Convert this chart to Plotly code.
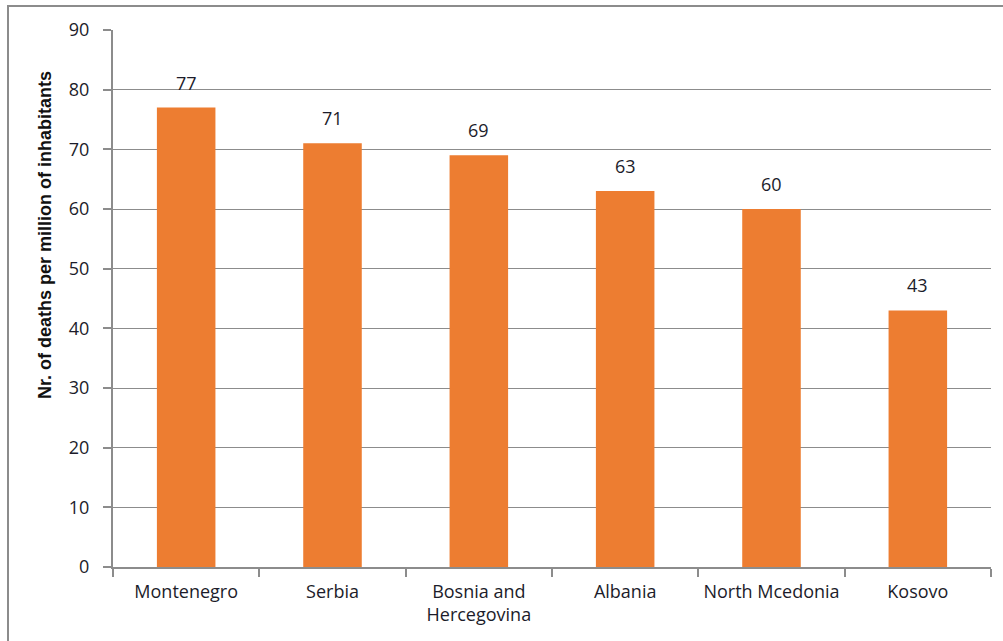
import plotly.graph_objects as go

categories = ["Montenegro", "Serbia", "Bosnia and<br>Hercegovina", "Albania", "North Mcedonia", "Kosovo"]
values = [77, 71, 69, 63, 60, 43]
y_ticks = [0, 10, 20, 30, 40, 50, 60, 70, 80, 90]

W, H = 1003, 641
L, R, T, B = 113, 12, 30, 74
pw, ph = W - L - R, H - T - B

def px_x(x):
    return (x - L) / pw

def px_y(y):
    return (H - B - y) / ph

FONT = "Open Sans"
TXT = "#1c1c2a"
GRAY = "#8c8c8c"

fig = go.Figure()
fig.add_trace(go.Bar(
    x=categories, y=values,
    marker=dict(color="#ED7D31", line=dict(width=0)),
    width=0.4, hoverinfo="x+y",
))

for c, v in zip(categories, values):
    fig.add_annotation(
        x=c, y=v, text=str(v), showarrow=False,
        xanchor="center", yanchor="bottom", yshift=11,
        font=dict(size=18, color=TXT, family=FONT),
    )

fig.add_annotation(
    text="<b>Nr. of deaths per million of inhabitants</b>",
    xref="paper", yref="paper", x=px_x(45), y=px_y(235),
    textangle=-90, showarrow=False, xanchor="center", yanchor="middle",
    font=dict(size=18, color="#111111", family="Liberation Sans"),
)

fig.update_layout(
    width=W, height=H,
    margin=dict(l=L, r=R, t=T, b=B),
    paper_bgcolor="white", plot_bgcolor="white",
    showlegend=False,
    font=dict(family=FONT, size=18, color=TXT),
    xaxis=dict(
        showline=True, linecolor=GRAY, linewidth=2,
        ticks="outside", ticklen=8, tickcolor=GRAY, tickwidth=2,
        tickson="boundaries", showgrid=False,
        tickfont=dict(size=18, color=TXT, family=FONT),
        ticklabelstandoff=7,
    ),
    yaxis=dict(
        range=[0, 90], tickvals=y_ticks,
        showline=True, linecolor=GRAY, linewidth=2,
        ticks="outside", ticklen=8, tickcolor=GRAY, tickwidth=2,
        showgrid=True, gridcolor=GRAY, gridwidth=1,
        zeroline=False,
        tickfont=dict(size=18, color=TXT, family=FONT),
        ticklabelstandoff=10,
    ),
    shapes=[dict(
        type="rect", xref="paper", yref="paper",
        x0=px_x(8), x1=px_x(1012), y0=px_y(6), y1=px_y(660),
        line=dict(color=GRAY, width=2), fillcolor="rgba(0,0,0,0)", layer="below",
    )],
)

fig.write_html(
    "out.html",
    config={"displayModeBar": False},
    post_script="document.body.style.margin='0';document.body.style.overflow='hidden';",
)
